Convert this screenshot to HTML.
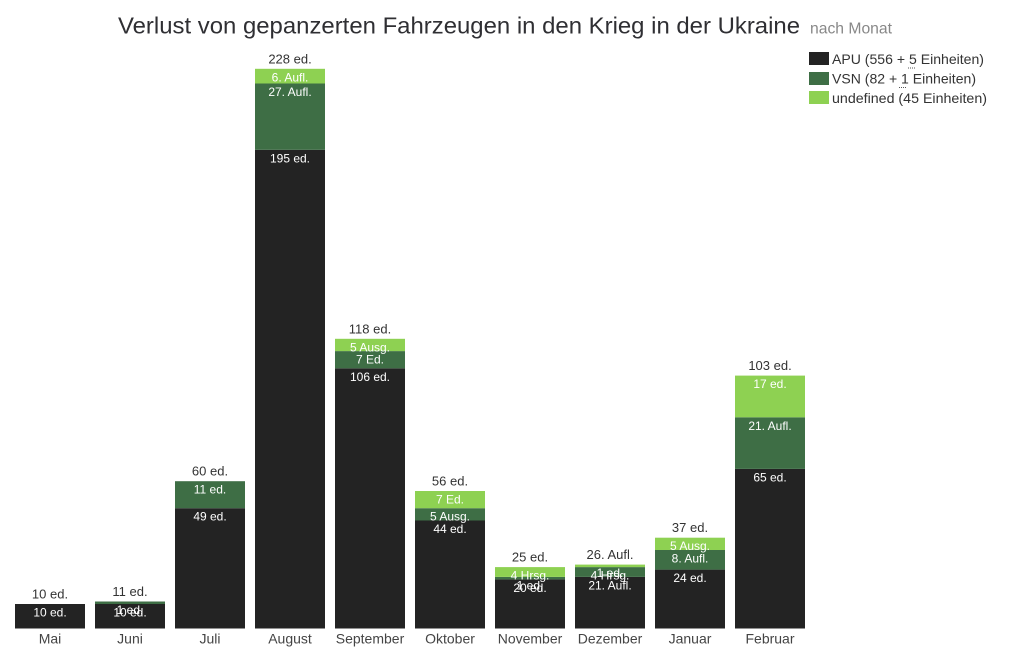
<!DOCTYPE html>
<html><head><meta charset="utf-8"><style>
html,body{margin:0;padding:0;background:#fff;}
svg{display:block;font-family:"Liberation Sans",Arial,sans-serif;}
.tl{font-size:13px;fill:#333;text-anchor:middle;}
.il{font-size:12px;fill:#fff;text-anchor:middle;}
.ml{font-size:14px;fill:#444;text-anchor:middle;}
.lg{font-size:14px;fill:#333;}
</style></head><body>
<svg width="1016" height="656" viewBox="0 0 1016 656" xmlns="http://www.w3.org/2000/svg">
<rect width="1016" height="656" fill="#fff"/>
<text x="118" y="33.5" font-size="23" fill="#2f2f33" textLength="682" lengthAdjust="spacingAndGlyphs">Verlust von gepanzerten Fahrzeugen in den Krieg in der Ukraine</text>
<text x="810" y="33.5" font-size="16" fill="#888" textLength="82" lengthAdjust="spacingAndGlyphs">nach Monat</text>

<!-- legend -->
<rect x="809" y="52" width="20" height="13" fill="#232323"/>
<rect x="809" y="72" width="20" height="13" fill="#3e6e45"/>
<rect x="809" y="91" width="20" height="13" fill="#8ed152"/>
<text class="lg" x="832" y="64" textLength="152" lengthAdjust="spacingAndGlyphs">APU (556 + 5 Einheiten)</text>
<text class="lg" x="832" y="83.5" textLength="144" lengthAdjust="spacingAndGlyphs">VSN (82 + 1 Einheiten)</text>
<text class="lg" x="832" y="103" textLength="155" lengthAdjust="spacingAndGlyphs">undefined (45 Einheiten)</text>
<line x1="908" y1="68" x2="916" y2="68" stroke="#555" stroke-width="1" stroke-dasharray="1,1"/>
<line x1="899" y1="87.5" x2="907" y2="87.5" stroke="#555" stroke-width="1" stroke-dasharray="1,1"/>

<!-- bars: dark -->
<g fill="#232323">
<rect x="15" y="604" width="70" height="24.5"/>
<rect x="95" y="604" width="70" height="24.5"/>
<rect x="175" y="508.2" width="70" height="120.3"/>
<rect x="255" y="149.8" width="70" height="478.7"/>
<rect x="335" y="368.3" width="70" height="260.2"/>
<rect x="415" y="520.5" width="70" height="108"/>
<rect x="495" y="579.4" width="70" height="49.1"/>
<rect x="575" y="576.9" width="70" height="51.6"/>
<rect x="655" y="569.6" width="70" height="58.9"/>
<rect x="735" y="468.9" width="70" height="159.6"/>
</g>
<!-- mid green -->
<g fill="#3e6e45">
<rect x="95" y="601.5" width="70" height="2.5"/>
<rect x="175" y="481.2" width="70" height="27"/>
<rect x="255" y="83.5" width="70" height="66.3"/>
<rect x="335" y="351.1" width="70" height="17.2"/>
<rect x="415" y="508.2" width="70" height="12.3"/>
<rect x="495" y="576.9" width="70" height="2.5"/>
<rect x="575" y="567.1" width="70" height="9.8"/>
<rect x="655" y="550" width="70" height="19.6"/>
<rect x="735" y="417.3" width="70" height="51.6"/>
</g>
<!-- light green -->
<g fill="#8ed152">
<rect x="255" y="68.8" width="70" height="14.7"/>
<rect x="335" y="338.8" width="70" height="12.3"/>
<rect x="415" y="491" width="70" height="17.2"/>
<rect x="495" y="567.1" width="70" height="9.8"/>
<rect x="575" y="564.6" width="70" height="2.5"/>
<rect x="655" y="537.7" width="70" height="12.3"/>
<rect x="735" y="375.6" width="70" height="41.7"/>
</g>

<!-- inside labels -->
<g class="il">
<text x="50" y="616.5">10 ed.</text>
<text x="130" y="616.5">10 ed.</text>
<text x="130" y="614">1 ed.</text>
<text x="210" y="520.7">49 ed.</text>
<text x="210" y="493.7">11 ed.</text>
<text x="290" y="162.3">195 ed.</text>
<text x="290" y="96">27. Aufl.</text>
<text x="290" y="81.3">6. Aufl.</text>
<text x="370" y="380.8">106 ed.</text>
<text x="370" y="363.6">7 Ed.</text>
<text x="370" y="351.3">5 Ausg.</text>
<text x="450" y="533">44 ed.</text>
<text x="450" y="520.7">5 Ausg.</text>
<text x="450" y="503.5">7 Ed.</text>
<text x="530" y="591.9">20 ed.</text>
<text x="530" y="589.4">1 ed.</text>
<text x="530" y="579.6">4 Hrsg.</text>
<text x="610" y="589.4">21. Aufl.</text>
<text x="610" y="579.6">4 Hrsg.</text>
<text x="610" y="577.1">1 ed.</text>
<text x="690" y="582.1">24 ed.</text>
<text x="690" y="562.5">8. Aufl.</text>
<text x="690" y="550.2">5 Ausg.</text>
<text x="770" y="481.4">65 ed.</text>
<text x="770" y="429.8">21. Aufl.</text>
<text x="770" y="388.1">17 ed.</text>
</g>

<!-- top labels -->
<g class="tl">
<text x="50" y="598.5">10 ed.</text>
<text x="130" y="596">11 ed.</text>
<text x="210" y="475.7">60 ed.</text>
<text x="290" y="63.5">228 ed.</text>
<text x="370" y="333.3">118 ed.</text>
<text x="450" y="485.5">56 ed.</text>
<text x="530" y="561.6">25 ed.</text>
<text x="610" y="559.1">26. Aufl.</text>
<text x="690" y="532.2">37 ed.</text>
<text x="770" y="370.1">103 ed.</text>
</g>

<!-- month labels -->
<g class="ml">
<text x="50" y="643.5">Mai</text>
<text x="130" y="643.5">Juni</text>
<text x="210" y="643.5">Juli</text>
<text x="290" y="643.5">August</text>
<text x="370" y="643.5">September</text>
<text x="450" y="643.5">Oktober</text>
<text x="530" y="643.5">November</text>
<text x="610" y="643.5">Dezember</text>
<text x="690" y="643.5">Januar</text>
<text x="770" y="643.5">Februar</text>
</g>
</svg>
</body></html>
